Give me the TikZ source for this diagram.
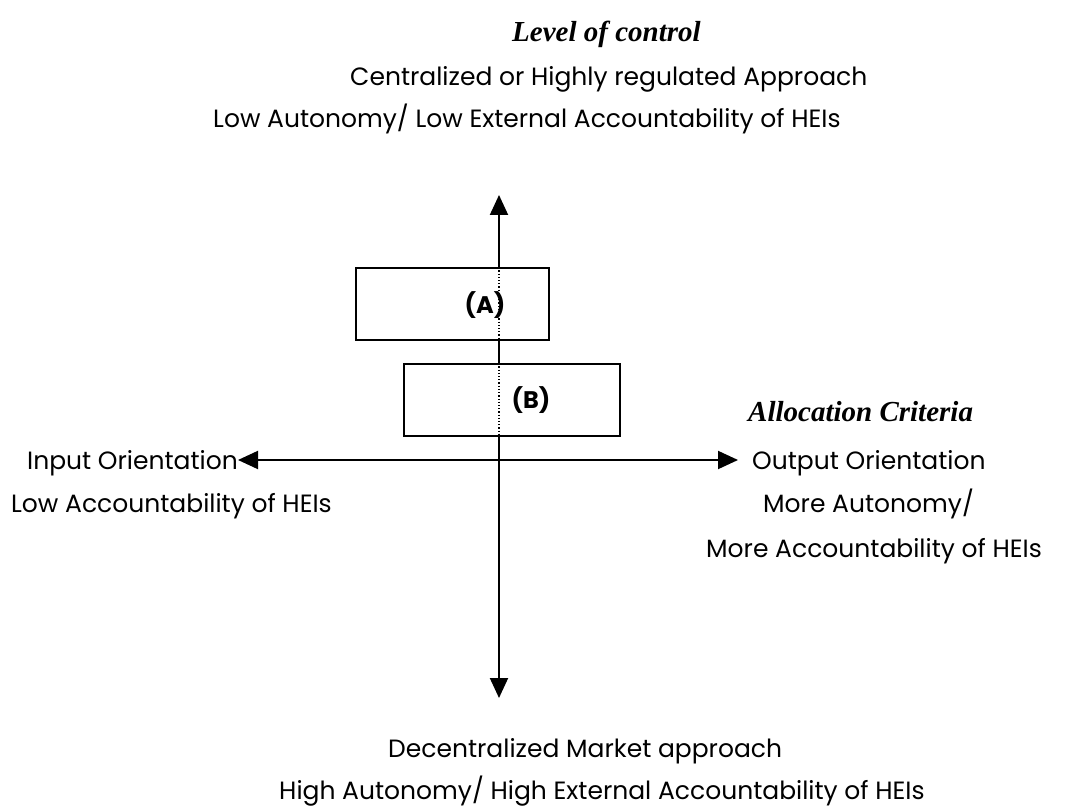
\documentclass[tikz,border=0pt]{standalone}
\usepackage{fontspec}
\setmainfont{Poppins}
\newfontfamily\titlefont{Liberation Serif}
\usetikzlibrary{arrows.meta}
\begin{document}
\begin{tikzpicture}[x=1pt,y=-1pt,
  lbl/.style={font=\fontsize{25}{30}\selectfont, inner sep=0pt, anchor=base west},
  ttl/.style={font=\titlefont\bfseries\itshape\fontsize{29}{34}\selectfont, inner sep=0pt, anchor=base west},
  axis/.style={line width=2pt, -{Triangle[length=20pt,width=18pt]}},
  quad/.style={draw, line width=1.4pt, fill=white, inner sep=0pt},
  tag/.style={font=\bfseries\fontsize{24}{28}\selectfont, inner sep=0pt}]
  \useasboundingbox (0,0) rectangle (1074,810);

  % axis ends
  \coordinate (o) at (499,460);
  \coordinate (top) at (499,195);
  \coordinate (bot) at (499,698);
  \coordinate (lft) at (238,460);
  \coordinate (rgt) at (738,460);

  % axes
  \draw[axis] (o) -- (top);
  \draw[axis] (o) -- (bot);
  \draw[axis] (o) -- (lft);
  \draw[axis] (o) -- (rgt);

  % boxes with the axis dotted through them
  \node[quad, minimum width=193pt, minimum height=72pt] (A) at (452.5,304) {};
  \node[quad, minimum width=216pt, minimum height=72pt] (B) at (512,400) {};
  \draw[dotted, line width=1.2pt] (A.north -| o) -- (A.south -| o);
  \draw[dotted, line width=1.2pt] (B.north -| o) -- (B.south -| o);
  \node[tag] (Alab) at (485,305) {(A)};
  \node[tag] (Blab) at (531,400) {(B)};

  % top labels
  \node[ttl] (t1) at (512,42) {Level of control};
  \node[lbl] (t2) at (350,86) {Centralized or Highly regulated Approach};
  \node[lbl] (t3) at (213,128) {Low Autonomy/ Low External Accountability of HEIs};

  % left labels
  \node[lbl, anchor=base east] (l1) at (238,469) {Input Orientation};
  \node[lbl] (l2) at (11,512) {Low Accountability of HEIs};

  % right labels
  \node[ttl] (r0) at (748,421) {Allocation Criteria};
  \node[lbl] (r1) at (752,469) {Output Orientation};
  \node[lbl] (r2) at (763,512) {More Autonomy/};
  \node[lbl] (r3) at (706,557) {More Accountability of HEIs};

  % bottom labels
  \node[lbl] (b1) at (388,757) {Decentralized Market approach};
  \node[lbl] (b2) at (279,799) {High Autonomy/ High External Accountability of HEIs};
\end{tikzpicture}
\end{document}
